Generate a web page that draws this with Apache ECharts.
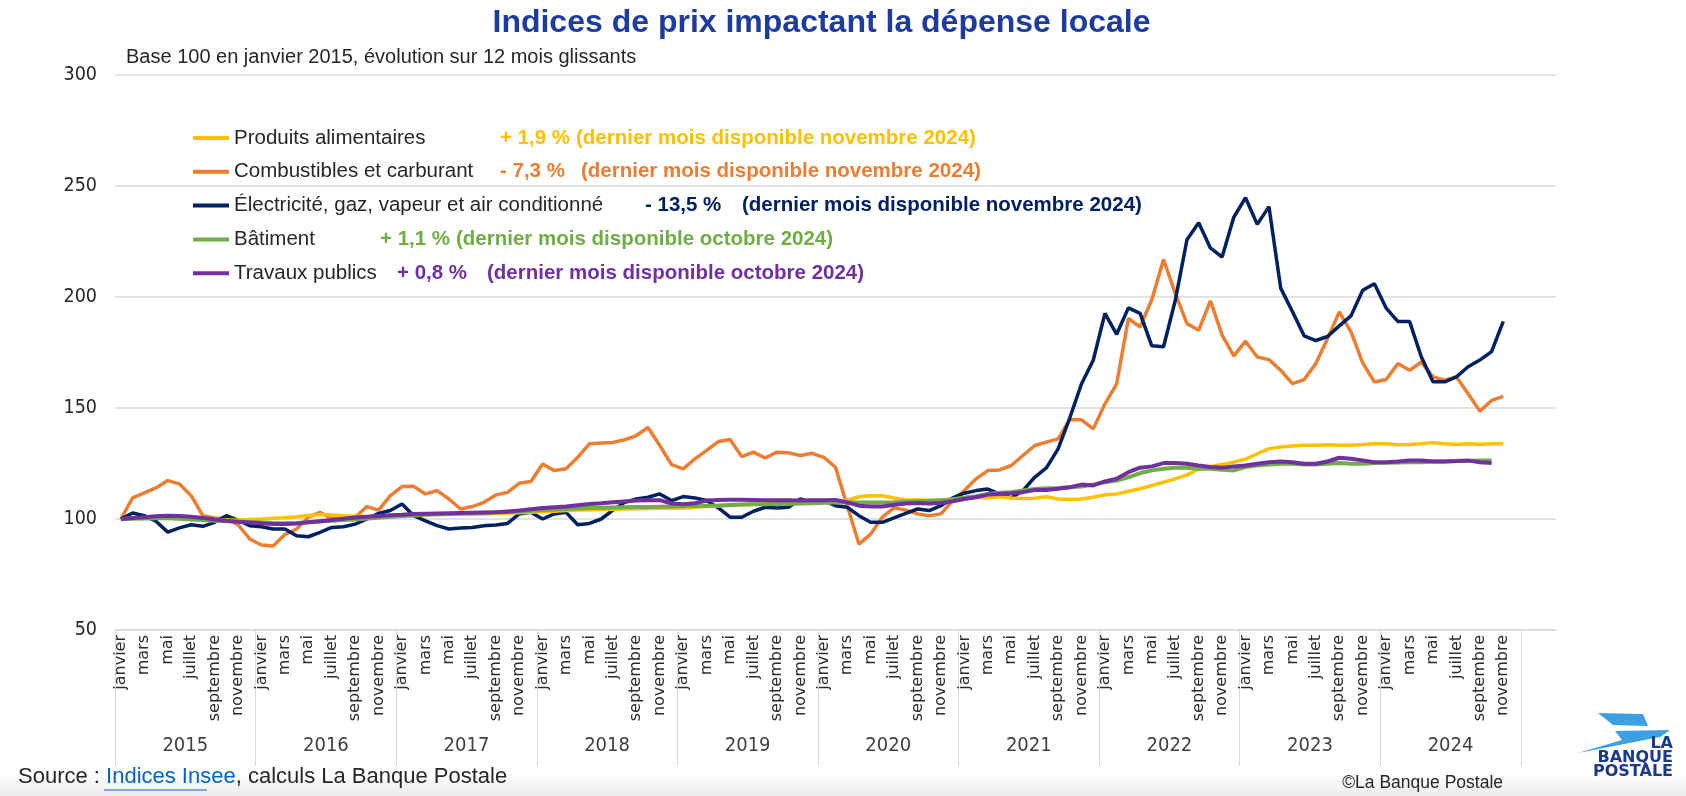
<!DOCTYPE html>
<html>
<head>
<meta charset="utf-8">
<title>Indices de prix impactant la dépense locale</title>
<script src="https://cdn.jsdelivr.net/npm/echarts@6/dist/echarts.min.js"></script>
<style>
    html, body { margin: 0; padding: 0; background: #ffffff; }
    #main { width: 1686px; height: 796px; }
</style>
</head>
<body>
<div id="main"></div>
<script>
// mois et années de l'axe (3 mois vides en fin d'axe, comme sur l'original)
var moisNoms = ['janvier', 'février', 'mars', 'avril', 'mai', 'juin', 'juillet', 'août', 'septembre', 'octobre', 'novembre', 'décembre'];
var annees = [2015, 2016, 2017, 2018, 2019, 2020, 2021, 2022, 2023, 2024];
var moisVides = 3;

var seriesNames = ['Produits alimentaires', 'Combustibles et carburant', 'Électricité, gaz, vapeur et air conditionné', 'Bâtiment', 'Travaux publics'];
var variations = ['+ 1,9 %', '- 7,3 %', '- 13,5 %', '+ 1,1 %', '+ 0,8 %'];
var dernierMois = ['(dernier mois disponible novembre 2024)', '(dernier mois disponible novembre 2024)', '(dernier mois disponible novembre 2024)', '(dernier mois disponible octobre 2024)', '(dernier mois disponible octobre 2024)'];
var couleurs = ['#FFC000', '#ED7D31', '#002060', '#70AD47', '#7030A0'];

// base 100 en janvier 2015, janvier 2015 -> novembre 2024
var alimentaires = [
    100.0, 100.3, 100.6, 100.8, 100.6, 100.3, 100.0, 99.8, 99.7, 99.5, 99.6, 99.8,
    100.0, 100.3, 100.6, 101.0, 101.6, 102.0, 101.8, 101.5, 101.3, 101.1, 101.2, 101.4,
    101.6, 101.8, 101.9, 102.0, 102.1, 102.2, 102.2, 102.3, 102.5, 102.6, 102.8, 103.0,
    103.3, 103.5, 103.8, 104.0, 104.2, 104.3, 104.4, 104.5, 104.6, 104.7, 104.8, 104.8,
    105.0, 105.3, 105.6, 105.9, 106.2, 106.4, 106.6, 106.8, 106.9, 107.0, 107.0, 107.2,
    107.5, 107.8, 108.5, 110.0, 110.5, 110.5, 109.5, 108.6, 108.6, 108.4, 108.6, 109.0,
    109.5, 109.8, 109.5, 110.0, 109.5, 109.2, 109.4, 110.0, 109.0, 108.8, 109.0, 109.8,
    110.9, 111.3, 112.5, 113.6, 115.1, 116.6, 118.1, 119.9, 122.5, 123.7, 124.6, 125.6,
    127.0, 129.4, 131.7, 132.4, 132.9, 133.2, 133.2, 133.5, 133.2, 133.2, 133.6, 133.9,
    133.9, 133.5, 133.6, 133.9, 134.4, 133.9, 133.6, 133.9, 133.6, 133.9, 133.9
];
var combustibles = [
    100.0, 109.5, 111.8, 114.0, 117.3, 115.8, 110.5, 101.5, 100.5, 100.0, 97.5, 91.0,
    88.3, 87.8, 93.0, 95.5, 100.8, 103.0, 100.2, 100.0, 100.8, 105.6, 104.0, 110.5,
    114.6, 114.7, 111.3, 112.8, 109.0, 104.5, 105.6, 107.5, 110.8, 112.0, 116.1, 116.9,
    124.8, 121.8, 122.6, 127.8, 133.9, 134.2, 134.5, 135.7, 137.6, 141.2, 133.1, 124.5,
    122.6, 127.1, 130.9, 134.9, 135.8, 128.1, 130.1, 127.5, 130.1, 129.8, 128.6, 129.6,
    127.8, 123.3, 106.0, 88.7, 93.2, 100.8, 105.0, 104.0, 102.3, 101.5, 102.3, 108.3,
    112.8, 118.1, 121.8, 122.1, 124.1, 128.6, 133.1, 134.6, 136.1, 144.7, 144.7, 140.6,
    151.9, 160.9, 190.3, 186.5, 198.9, 216.9, 201.6, 188.0, 185.0, 198.3, 182.8, 173.5,
    180.1, 173.0, 171.8, 167.0, 161.0, 162.8, 170.0, 181.3, 193.3, 184.3, 170.3, 161.7,
    162.8, 170.0, 167.0, 170.7, 164.0, 162.5, 164.0, 156.4, 148.6, 153.4, 155.2
];
var electricite = [
    100.0, 102.7, 101.5, 99.0, 94.1, 96.0, 97.4, 96.7, 98.5, 101.5, 99.5, 97.0,
    96.5, 95.5, 95.5, 92.5, 92.0, 94.0, 96.2, 96.5, 97.7, 100.0, 102.5, 103.8,
    106.8, 101.5, 99.2, 97.0, 95.5, 95.9, 96.2, 97.0, 97.3, 98.0, 102.3, 103.0,
    100.0, 102.3, 103.0, 97.4, 98.0, 100.0, 104.0, 107.5, 109.0, 109.8, 111.3, 108.3,
    110.1, 109.5, 108.3, 105.0, 100.8, 100.8, 103.5, 105.3, 105.0, 105.3, 109.0, 107.5,
    108.3, 106.0, 105.3, 101.5, 98.5, 98.5, 100.5, 102.5, 104.5, 103.8, 106.0, 109.5,
    111.6, 112.8, 113.5, 111.3, 109.5, 112.8, 118.8, 123.0, 131.6, 145.6, 160.9, 171.5,
    192.6, 183.2, 195.1, 192.6, 178.0, 177.6, 198.4, 225.8, 233.4, 222.1, 218.0, 236.0,
    244.7, 232.7, 240.7, 204.0, 193.5, 182.5, 180.4, 182.2, 187.0, 191.5, 203.0, 206.0,
    195.0, 189.0, 189.0, 173.1, 161.8, 161.8, 164.0, 168.6, 171.6, 175.4, 189.0
];
// janvier 2015 -> octobre 2024
var batiment = [
    100.0, 100.1, 100.2, 100.3, 100.3, 100.1, 99.8, 99.5, 99.2, 99.0, 98.8, 98.6,
    98.4, 98.2, 98.1, 98.2, 98.5, 98.9, 99.2, 99.5, 99.8, 100.2, 100.6, 101.0,
    101.3, 101.6, 101.9, 102.1, 102.3, 102.5, 102.6, 102.8, 103.0, 103.2, 103.4, 103.7,
    104.0, 104.2, 104.5, 104.7, 104.9, 105.1, 105.2, 105.3, 105.4, 105.4, 105.5, 105.6,
    105.7, 105.8, 106.0, 106.1, 106.3, 106.5, 106.6, 106.7, 106.8, 106.9, 107.0, 107.1,
    107.3, 107.4, 107.5, 107.4, 107.4, 107.4, 107.5, 107.8, 108.0, 108.2, 108.5, 108.8,
    109.6, 110.3, 111.3, 111.8, 112.1, 112.8, 113.5, 113.8, 114.0, 114.3, 114.6, 115.5,
    116.6, 117.3, 118.8, 120.7, 121.9, 122.6, 123.1, 123.1, 122.6, 122.6, 122.2, 121.9,
    123.4, 124.1, 124.6, 124.9, 124.9, 124.6, 124.6, 124.9, 125.2, 124.9, 124.9, 125.2,
    125.3, 125.5, 125.6, 125.6, 125.9, 125.9, 126.1, 126.1, 126.4, 126.4
];
var travauxPublics = [
    100.0, 100.4, 100.8, 101.2, 101.5, 101.4, 101.0, 100.5, 99.8, 99.2, 98.8, 98.4,
    98.1, 97.8, 97.7, 98.0, 98.5, 99.0, 99.5, 100.1, 100.7, 101.0, 101.4, 101.7,
    101.9, 102.3, 102.4, 102.5, 102.6, 102.7, 102.8, 102.9, 103.0, 103.4, 103.8, 104.4,
    105.0, 105.3, 105.6, 106.2, 106.8, 107.1, 107.5, 107.9, 108.3, 108.4, 108.5, 107.0,
    106.6, 107.1, 108.3, 108.6, 108.7, 108.7, 108.6, 108.5, 108.5, 108.4, 108.3, 108.4,
    108.5, 108.6, 107.5, 106.0, 105.6, 105.6, 106.4, 107.0, 107.2, 107.0, 107.2, 108.0,
    109.0, 109.8, 111.0, 111.3, 111.6, 112.1, 113.1, 113.1, 113.6, 114.3, 115.5, 115.1,
    116.9, 118.1, 121.1, 123.1, 123.7, 125.2, 125.2, 124.9, 124.1, 123.4, 123.1, 123.7,
    124.1, 124.9, 125.6, 125.9, 125.6, 124.9, 124.9, 125.9, 127.6, 127.1, 126.4, 125.6,
    125.6, 125.9, 126.4, 126.4, 125.9, 125.9, 126.1, 126.4, 125.6, 125.2
];

var categories = [];
annees.forEach(function (a) {
    moisNoms.forEach(function (m) {
        categories.push(m + ' ' + a);
    });
});
for (var k = 0; k < moisVides; k++) {
    categories.push('');
}

// séparateurs d'années et milieux d'années (en mois depuis janvier 2015)
var debutsAnnees = [];
var milieuxAnnees = [];
annees.forEach(function (a, i) {
    debutsAnnees.push(i * 12);
    milieuxAnnees.push(i * 12 + 6);
});
debutsAnnees.push(annees.length * 12);

var fontTxt = '"Liberation Sans", Arial, sans-serif';
var fontNum = '"Liberation Sans Narrow", "DejaVu Sans Condensed", sans-serif';
var gris = '#d9d9d9';

// légende : nom + variation + mois, colonnes comme sur l'original
var largeurNom = [266, 266, 411, 146, 163];
var largeurVar = [76, 81, 97, 76, 90];
var rich = {};
seriesNames.forEach(function (n, i) {
    rich['n' + i] = { width: largeurNom[i], fontSize: 20.5, lineHeight: 20, color: '#262626', fontFamily: fontTxt };
    rich['p' + i] = { width: largeurVar[i], fontSize: 20.5, lineHeight: 20, fontWeight: 'bold', color: couleurs[i], fontFamily: fontTxt };
    rich['d' + i] = { fontSize: 20.5, lineHeight: 20, fontWeight: 'bold', color: couleurs[i], fontFamily: fontTxt };
});

var donnees = [alimentaires, combustibles, electricite, batiment, travauxPublics];
var ordre = [3, 1, 2, 4, 5];
var epaisseur = [3.5, 3.5, 3.5, 4, 4];

var series = seriesNames.map(function (n, i) {
    return {
        name: n,
        type: 'line',
        xAxisIndex: 0,
        data: donnees[i],
        symbol: 'none',
        smooth: false,
        z: ordre[i],
        color: couleurs[i],
        lineStyle: { width: epaisseur[i], color: couleurs[i] },
        emphasis: { disabled: true }
    };
});

var myChart = echarts.init(document.getElementById('main'));

var option = {
    backgroundColor: '#ffffff',
    animation: false,
    grid: { left: 115, right: 130, top: 75, bottom: 166 },
    legend: {
        orient: 'vertical',
        left: 193,
        top: 127.5,
        padding: 0,
        itemGap: 12.8,
        itemWidth: 36,
        itemHeight: 4,
        icon: 'rect',
        selectedMode: false,
        data: seriesNames,
        formatter: function (name) {
            var i = seriesNames.indexOf(name);
            return '{n' + i + '|' + name + '}{p' + i + '|' + variations[i] + '}{d' + i + '|' + dernierMois[i] + '}';
        },
        textStyle: { rich: rich }
    },
    xAxis: [
        {
            type: 'category',
            data: categories,
            boundaryGap: true,
            position: 'bottom',
            axisLine: { show: true, lineStyle: { color: gris, width: 1.5 } },
            axisTick: { show: false },
            axisLabel: {
                interval: function (i, v) { return i % 2 === 0 && v !== ''; },
                rotate: 90,
                margin: 5,
                fontFamily: '"DejaVu Sans", sans-serif',
                fontSize: 16,
                color: '#2b2b2b',
                formatter: function (v) { return v.split(' ')[0]; }
            },
            splitLine: { show: false }
        },
        {
            // ligne des années : séparateurs et libellés centrés sur chaque année
            type: 'value',
            min: 0,
            max: categories.length,
            interval: 6,
            position: 'bottom',
            axisLine: { show: false },
            axisTick: {
                show: true,
                customValues: debutsAnnees,
                length: 136,
                lineStyle: { color: gris, width: 1 }
            },
            splitLine: { show: false },
            axisLabel: {
                customValues: milieuxAnnees,
                margin: 106,
                fontFamily: fontNum,
                fontSize: 20,
                color: '#404040',
                formatter: function (v) {
                    var j = Math.round((v - 6) / 12);
                    return j >= 0 && j < annees.length ? String(annees[j]) : '';
                }
            }
        }
    ],
    yAxis: {
        type: 'value',
        min: 50,
        max: 300,
        interval: 50,
        axisLine: { show: false },
        axisTick: { show: false },
        axisLabel: { margin: 18, fontFamily: fontNum, fontSize: 19.5, color: '#262626' },
        splitLine: { lineStyle: { color: gris, width: 1.5 } }
    },
    graphic: [
        {
            type: 'rect', z: -10, silent: true,
            shape: { x: 0, y: 772, width: 1686, height: 24 },
            style: { fill: new echarts.graphic.LinearGradient(0, 0, 0, 1, [{ offset: 0, color: 'rgba(236,236,236,0)' }, { offset: 1, color: '#ebebeb' }]) }
        },
        {
            type: 'text', x: 821.5, y: 23, silent: true,
            style: { text: 'Indices de prix impactant la dépense locale', align: 'center', verticalAlign: 'middle', font: 'bold 32px ' + fontTxt, fill: '#1e3c9e' }
        },
        {
            type: 'text', x: 126, y: 57, silent: true,
            style: { text: 'Base 100 en janvier 2015, évolution sur 12 mois glissants', align: 'left', verticalAlign: 'middle', font: '20px ' + fontTxt, fill: '#262626' }
        },
        {
            type: 'text', x: 18, y: 777, silent: true,
            style: {
                text: '{a|Source : }{b|Indices Insee}{a|, calculs La Banque Postale}',
                align: 'left', verticalAlign: 'middle',
                rich: {
                    a: { fontSize: 22, fontFamily: fontTxt, fill: '#262626' },
                    b: { fontSize: 22, fontFamily: fontTxt, fill: '#0563C1' }
                }
            }
        },
        {
            type: 'line', silent: true,
            shape: { x1: 104, y1: 790, x2: 207, y2: 790 },
            style: { stroke: '#0563C1', lineWidth: 1.2 }
        },
        {
            type: 'text', x: 1503, y: 783, silent: true,
            style: { text: '©La Banque Postale', align: 'right', verticalAlign: 'middle', font: '17.5px ' + fontTxt, fill: '#262626' }
        },
        {
            type: 'polygon', silent: true,
            shape: { points: [[1598, 713], [1643, 714], [1648, 726], [1613, 725]] },
            style: { fill: '#3d9fe4' }
        },
        {
            type: 'polygon', silent: true,
            shape: { points: [[1615, 731], [1670, 730], [1660, 737], [1578, 753], [1622, 740]] },
            style: { fill: '#3d9fe4' }
        },
        {
            type: 'text', x: 1673, y: 744, silent: true,
            style: { text: 'LA', align: 'right', verticalAlign: 'middle', font: 'bold 16px "DejaVu Sans", sans-serif', fill: '#1d3a8a' }
        },
        {
            type: 'text', x: 1673, y: 758, silent: true,
            style: { text: 'BANQUE', align: 'right', verticalAlign: 'middle', font: 'bold 16px "DejaVu Sans", sans-serif', fill: '#1d3a8a' }
        },
        {
            type: 'text', x: 1673, y: 772, silent: true,
            style: { text: 'POSTALE', align: 'right', verticalAlign: 'middle', font: 'bold 16px "DejaVu Sans", sans-serif', fill: '#1d3a8a' }
        }
    ],
    series: series
};

myChart.setOption(option);
</script>
</body>
</html>
